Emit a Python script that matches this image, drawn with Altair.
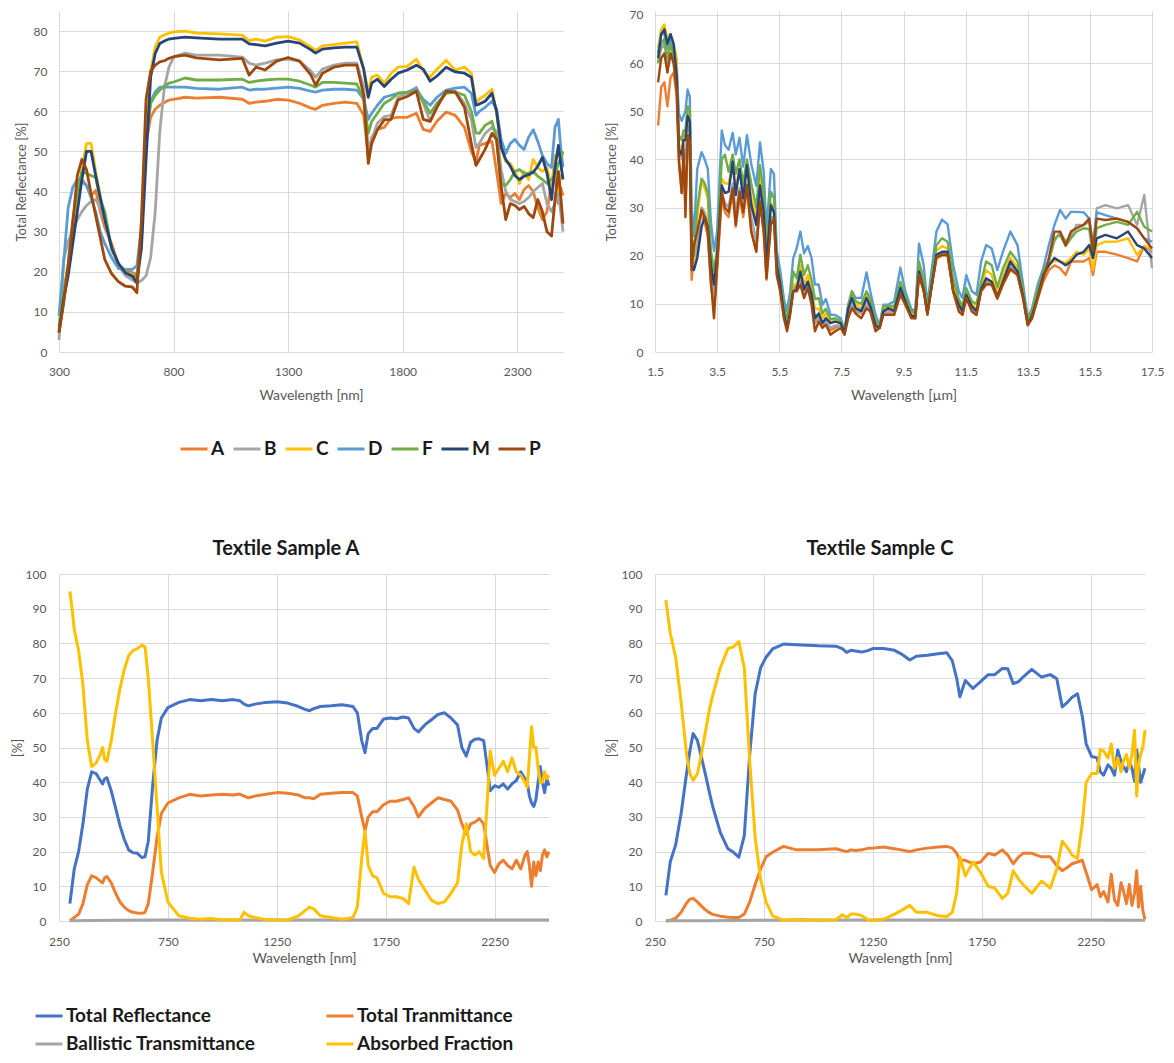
import altair as alt
import pandas as pd

FONT = "Lato"
GRID = "#d9d9d9"
LBL = "#595959"

# ---------------- Top-left: Total reflectance 300-2500 nm ----------------
SAMPLES = ["A", "B", "C", "D", "F", "M", "P"]
SAMPLE_COLORS = ["#ED7D31", "#A5A5A5", "#FFC000", "#5B9BD5", "#70AD47", "#264478", "#9E480E"]

TL_X = [300, 320, 340, 360, 380, 400, 420, 440, 460, 480,
        500, 530, 560, 590, 620, 640, 660, 680, 700, 720,
        740, 760, 780, 800, 850, 900, 1000, 1100, 1130, 1160,
        1200, 1250, 1300, 1350, 1400, 1420, 1450, 1500, 1550, 1600,
        1630, 1650, 1665, 1690, 1720, 1750, 1780, 1820, 1860, 1890,
        1920, 1950, 1990, 2030, 2070, 2100, 2120, 2135, 2160, 2190,
        2210, 2230, 2250, 2270, 2290, 2310, 2330, 2350, 2370, 2390,
        2410, 2430, 2450, 2465, 2480, 2490, 2500]

TL_A = [4.8, 13, 20, 31, 40, 43, 41.5, 39, 40.3, 35,
        31, 27, 21.5, 20.5, 19.8, 19.3, 29, 52, 58.5, 60.5,
        61.5, 62.2, 62.8, 63, 63.5, 63.3, 63.5, 63, 62, 62.3,
        62.5, 63, 62.8, 62, 60.8, 60.5, 61.5, 62, 62.3, 62,
        59, 49, 53.5, 55.5, 56, 58.3, 58.5, 58.5, 59.5, 55.5,
        55, 57.5, 59.8, 59, 56, 50, 47.5, 51.5, 52, 52.5,
        45, 37, 39.5, 38.5, 39.5, 38, 40.5, 41.5, 40, 36,
        33, 35, 42, 44, 37, 41, 39]
TL_B = [3, 23, 27.5, 30.5, 33, 35, 36.5, 37.5, 38, 36,
        32.5, 26, 21.5, 19, 18, 17.2, 17.8, 19, 23.5, 35,
        55, 66, 71, 73.5, 74.5, 74, 74, 73.5, 72, 71.5,
        72, 72.8, 73, 72.5, 70, 68.5, 70.5, 71.5, 72, 72,
        66, 50.5, 53, 57, 58.7, 59, 63.5, 64.5, 66, 62,
        57.5, 61.5, 64.5, 65, 62, 58, 51, 52, 54.5, 56,
        55, 45.5, 40, 38, 37.5, 37, 37.5, 38.5, 40, 41,
        42, 37, 35, 37, 39.6, 35, 30]
TL_C = [5, 13, 20, 29, 38, 45.5, 52, 52, 45, 39,
        33, 26, 22, 19.7, 19.3, 18.2, 28, 55, 70, 76,
        78.5, 79, 79.5, 79.8, 80, 79.5, 79.3, 79, 77.6, 78,
        77.5, 78.5, 78.6, 77.8, 76, 75.2, 76.3, 76.6, 77, 77.3,
        70.5, 64.8, 68.5, 69, 67, 69.5, 71, 71.2, 73, 70,
        68.5, 70.5, 72.7, 70.3, 71, 69.5, 62, 63, 64, 65.5,
        59.5, 51, 47.5, 47, 45, 42, 45, 43, 48, 46,
        45, 46, 41, 49, 40, 44, 44]
TL_D = [9, 22, 36, 41, 43, 42.5, 41.5, 38.5, 35, 30,
        27, 23.5, 20.8, 20.6, 20.6, 21.5, 31, 54, 62.5, 64.8,
        66, 66, 66, 66, 66, 65.7, 65.5, 66, 65.3, 65.5,
        65.5, 65.8, 66, 65.7, 65, 64.8, 65.3, 65.5, 65.5, 65.3,
        63, 58, 59.5, 61.5, 63.5, 64, 64.5, 64.8, 65.5, 63,
        61.5, 63.5, 65.3, 65.8, 66, 64.5, 59, 60, 61, 62.5,
        60.5, 53, 49.5, 52, 53, 51.5, 50.5, 53.5, 55.4, 52.5,
        49, 47, 46, 56, 58, 51, 46]
TL_F = [6.5, 15, 22, 33, 40, 45, 44.5, 44, 43.5, 38,
        35, 25.5, 22, 20, 19, 18.9, 29, 53, 62, 64,
        65.3, 66.3, 67, 67.3, 68.3, 67.8, 67.8, 68, 67.2, 67.5,
        67.8, 68, 68, 67.5, 66.5, 66, 67.2, 67.2, 67, 66.8,
        63, 54.5, 57.5, 59.5, 62, 63, 64.5, 64.7, 65, 62.5,
        59.5, 62, 64.5, 64.8, 64, 60, 54.6, 54.5, 56.5, 57.5,
        53, 42, 41.5, 43, 45, 45.5, 44.5, 44.6, 45, 43.8,
        43, 42, 43, 44, 47, 48, 50]
TL_M = [5, 13, 19, 27, 35, 43, 50, 50, 44, 38.5,
        33, 26, 22, 19.7, 18.9, 17.3, 26, 48, 68.5, 74.4,
        76.9, 77.5, 78, 78.2, 78.5, 78.3, 78, 78, 76.8, 76.6,
        76.3, 77, 77.5, 77, 75.3, 74.5, 75.5, 75.8, 76, 76,
        70.5, 63.5, 67, 68, 66.2, 68, 69.5, 70.3, 71.5, 70.5,
        67.5, 68.8, 71, 69.8, 69.5, 68.5, 61.5, 61.8, 62.5, 64.5,
        60, 51, 48, 46.3, 44, 43, 43.8, 44.2, 44.8, 46.3,
        48.5, 44.6, 38, 46, 51.5, 47, 43]
TL_P = [4.8, 12, 21.5, 32, 44, 48, 45.5, 39.5, 34, 28.5,
        23, 19.5, 17.5, 16.4, 16.2, 14.8, 33, 63, 70, 71.5,
        72.3, 72.6, 73.2, 73.6, 74, 73.3, 72.8, 73.2, 69, 71,
        70.3, 72.5, 73.4, 72.5, 69, 66.5, 69.5, 71, 71.5, 71.5,
        64, 47, 52, 55.4, 57.9, 58, 62.8, 63.7, 65, 58,
        57.5, 61, 65, 64.8, 61, 52, 46.5, 48, 50.5, 54.5,
        53, 41.3, 33, 37, 36.5, 35.5, 36.3, 34.5, 33.5, 38,
        35, 30, 28.9, 38, 45, 39, 32]

# ---------------- Top-right: Total reflectance 1.5-17.5 um ----------------
TR_X = [1.6, 1.7, 1.8, 1.9, 2.0, 2.1, 2.2, 2.27, 2.36, 2.42,
        2.48, 2.55, 2.62, 2.68, 2.75, 2.86, 3.0, 3.1, 3.2, 3.3,
        3.4, 3.5, 3.65, 3.75, 3.87, 4.0, 4.1, 4.22, 4.34, 4.46,
        4.6, 4.76, 4.88, 5.0, 5.09, 5.23, 5.33, 5.42, 5.53, 5.65,
        5.75, 5.85, 5.95, 6.06, 6.18, 6.3, 6.42, 6.54, 6.65, 6.77,
        6.89, 7.0, 7.15, 7.3, 7.48, 7.6, 7.72, 7.84, 7.96, 8.14,
        8.31, 8.43, 8.6, 8.73, 8.85, 9.0, 9.2, 9.4, 9.56, 9.75,
        9.88, 10.0, 10.15, 10.27, 10.4, 10.56, 10.74, 10.92, 11.1, 11.28,
        11.4, 11.52, 11.7, 11.85, 12.0, 12.16, 12.34, 12.52, 12.7, 12.94,
        13.17, 13.35, 13.5, 13.64, 13.82, 14.0, 14.18, 14.36, 14.54, 14.72,
        14.89, 15.07, 15.3, 15.48, 15.6, 15.72, 16.0, 16.37, 16.73, 17.02,
        17.25, 17.5]

TR_A = [47, 55, 56, 51, 57, 58, 53, 39, 33, 40,
        30, 43, 42, 15, 20, 24, 29, 27, 24, 14,
        9, 17, 32, 29, 28, 33, 26, 32, 28, 34,
        25, 21, 31, 25, 15, 27, 28, 16, 13, 7.5,
        5, 8.5, 13, 14, 15, 12, 14, 11, 6, 7,
        5.5, 6.5, 4.5, 5, 5.5, 3.8, 8, 10, 8.5, 8,
        10, 9, 5, 5, 8, 8, 8, 12.5, 10, 7.5,
        7, 16, 13, 8, 13.5, 19.5, 20, 20, 12.5, 9,
        8, 11.5, 9, 8, 13, 14.5, 14, 11, 14, 17,
        16, 11, 5.5, 7, 11, 14.6, 17, 18, 17.4, 16,
        18.8, 18.8, 18.8, 19.5, 16, 20.8, 20.8, 20.2, 19.5, 18.8,
        22, 20.8]
TR_B = [60, 63, 64, 60, 62, 60, 55, 43, 40, 43,
        40, 47, 46, 20, 18, 22, 30, 29, 27, 17,
        12, 19, 33, 31, 30, 35, 29, 34, 30, 35,
        28, 23, 32, 27, 17, 28, 28, 17, 13, 7.5,
        5, 8, 13, 13, 16, 12, 14, 11, 6, 7.5,
        5.5, 6.5, 5, 5.5, 5.5, 3.7, 8, 10, 9, 8,
        10, 9, 5, 5, 8, 8.5, 8, 12.5, 10, 7.5,
        7, 16.5, 13, 8, 13.5, 20, 20.5, 20.5, 13, 9.5,
        8, 11.5, 9, 8, 13, 15, 14.5, 11.5, 14.5, 18,
        16.5, 11.5, 5.7, 7.5, 11.5, 15.5, 19, 23, 25, 22.9,
        24, 26.4, 26.4, 27, 20, 29.8, 30.5, 29.8, 30.5, 26.4,
        32.6, 17.4]
TR_C = [63, 67, 68, 65, 66, 64, 61, 43, 42, 45,
        45, 50, 48, 22, 19, 28, 35.7, 34, 32, 20,
        16, 22, 36, 35, 35, 39, 34, 38, 33, 38,
        32, 28, 36, 30, 19, 31, 29, 18, 14, 8.5,
        6, 9, 14, 14, 18, 14, 16, 13, 9, 9,
        7, 8, 6.2, 6.5, 6, 4, 9, 11.5, 10, 9,
        12, 10, 6, 5, 9, 9.2, 9, 14, 11, 8,
        7.5, 17.5, 14, 8.5, 14, 21, 22, 21.5, 14, 10.5,
        9, 12.5, 10, 9, 14, 17, 16, 12.5, 16, 19.5,
        17.5, 12, 6, 8, 12, 16, 18, 19, 18.8, 18.5,
        19.5, 20.8, 20.2, 21.5, 17, 22.2, 22.9, 22.9, 23.6, 20.2,
        22, 21.5]
TR_D = [62, 66, 66, 63, 65, 63, 58, 49.5, 48, 49,
        50, 54.5, 53, 30, 24, 38, 41.5, 40, 38, 27,
        21, 25, 46, 43, 42, 45.5, 41, 44.5, 38.5, 45,
        39, 34.5, 43.5, 37.5, 25, 38, 37, 21, 17, 11,
        8.5, 12.5, 19.5, 21.5, 25, 20.5, 22, 19.5, 14, 14,
        9.8, 11, 7.7, 7.7, 7, 4.5, 9.8, 12.6, 11.2, 11.2,
        16.5, 12.6, 7.7, 5.5, 9.8, 9.8, 10.5, 17.5, 12.6, 9,
        8.4, 22.5, 18, 9.8, 16.7, 25, 27.5, 26.5, 18, 12.6,
        11.2, 16, 12.6, 11.9, 18.8, 22.2, 21.5, 17, 20.8, 25,
        22.2, 14, 7, 9.1, 14, 17.4, 22.2, 26.4, 29.5, 27.7,
        29.1, 29.1, 29, 27.7, 22.2, 29, 28.4, 27.7, 27, 25.7,
        23.6, 22.9]
TR_F = [60, 64, 65, 61, 64, 61, 56, 45, 44, 46,
        46, 51, 50, 24, 20, 30, 36, 35, 33, 21,
        17, 21, 40, 41, 37.4, 41, 37, 40, 35, 40,
        35, 30, 38.8, 33, 21, 33.3, 32, 19, 15, 9.5,
        7, 10, 16.7, 15.3, 20.2, 16, 18, 15, 11, 11.2,
        8, 9, 6.8, 7, 6.5, 4.2, 9.5, 12.6, 10.5, 10,
        12.6, 11, 6.5, 5.2, 9.5, 9.5, 9.5, 14.6, 11.5, 8.5,
        8, 18.8, 15, 9, 14.6, 22.2, 23.6, 22.9, 15.3, 11,
        9.5, 13.3, 10.5, 10, 14.6, 18.8, 18, 13.5, 17.3, 20.8,
        18.8, 12.5, 6.5, 8.5, 13, 16.7, 18.8, 23.6, 24.3, 22,
        23.6, 25, 25.7, 25.5, 20, 25.7, 26.4, 27, 26.4, 29.1,
        26, 25]
TR_M = [61, 66, 67, 64, 66, 64, 57, 42, 41, 44,
        44, 49, 47.8, 18, 17, 19.5, 26, 28, 26, 18,
        14, 20, 34.6, 33, 33.3, 39.5, 32.6, 38, 31.9, 38.8,
        30.5, 26.4, 34.6, 29, 18, 30.5, 29, 18, 14, 8,
        5, 8.4, 12.6, 13, 16.7, 13, 14.6, 12, 7, 8,
        6, 7, 6, 6.3, 6, 3.8, 9, 11.2, 9.1, 8.5,
        11.2, 9.5, 5.5, 5, 8.4, 9.1, 8.5, 13.3, 10.5, 7.5,
        7.5, 16.7, 13, 8, 13.5, 20.2, 20.8, 20.8, 12.6, 9.8,
        8.5, 11.9, 9.5, 8.5, 13, 15.3, 14.6, 11.5, 14.6, 18.8,
        16.7, 11.5, 5.7, 7.5, 11.5, 16, 18, 19.5, 18.8, 18,
        18.8, 20.2, 20.8, 22.2, 19.5, 23.6, 24.3, 23.6, 25, 22.2,
        21.5, 19.5]
TR_P = [56, 61, 62, 58, 62, 60, 54, 40, 33, 42,
        28, 45, 44, 17, 22, 25, 29.5, 28, 25, 14.6,
        7, 18, 33.3, 30, 29, 34, 26.4, 33.3, 29, 34.6,
        25, 20.8, 31.2, 25, 15.3, 26.4, 27.7, 16, 12.6, 7,
        4.3, 7.7, 12.6, 12.6, 14, 11.2, 13.3, 9.8, 4.3, 6.3,
        5, 5.7, 3.6, 4.3, 5, 3.6, 7, 9.1, 8, 7,
        9.1, 8.4, 4.3, 5, 7.7, 7.7, 7.7, 11.9, 9.8, 7,
        7, 16, 12.6, 7.7, 13.3, 19.5, 20.2, 20.2, 12.6, 8.4,
        7.7, 11.2, 8.4, 7.7, 12.6, 14, 14, 11.2, 14, 17.3,
        16, 11.2, 5.7, 7, 11.2, 15.3, 19.5, 25, 25, 22.2,
        25, 25.7, 26.4, 27.7, 21, 27.7, 27.4, 27.7, 27, 25.7,
        23.6, 21.5]

# ---------------- Bottom: Textile sample A / C ----------------
PARTS = ["Total Reflectance", "Total Tranmittance", "Ballistic Transmittance", "Absorbed Fraction"]
PART_COLORS = ["#4472C4", "#ED7D31", "#A5A5A5", "#FFC000"]

BL_X = [300, 310, 320, 340, 360, 380, 400, 420, 440, 450,
        460, 470, 490, 510, 530, 550, 570, 590, 610, 630,
        645, 660, 680, 700, 720, 750, 800, 850, 900, 950,
        1000, 1050, 1080, 1100, 1120, 1150, 1200, 1250, 1300, 1350,
        1380, 1400, 1420, 1450, 1500, 1550, 1600, 1620, 1640, 1655,
        1670, 1690, 1710, 1740, 1770, 1800, 1830, 1855, 1880, 1900,
        1930, 1960, 1990, 2020, 2050, 2080, 2100, 2120, 2140, 2160,
        2180, 2200, 2215, 2230, 2250, 2270, 2290, 2310, 2330, 2350,
        2370, 2390, 2400, 2410, 2420, 2430, 2440, 2450, 2460, 2470,
        2480, 2490, 2500]
BL_R = [5, 10, 15, 20, 28, 38, 43, 42.5, 40.5, 39.5,
        41, 41.3, 37.5, 32.5, 27.5, 23.5, 20.5, 19.7, 19.5, 18.3,
        18.5, 23, 39, 52, 58.5, 61.5, 63, 63.8, 63.5, 63.8,
        63.5, 63.8, 63.5, 62.5, 62, 62.5, 63, 63.2, 62.8, 61.8,
        61, 60.6, 61.2, 61.8, 62, 62.3, 61.8, 60, 52, 48.5,
        54, 55.5, 55.5, 58.2, 58.5, 58.3, 58.8, 58.5, 55.5, 54.5,
        56.5, 58, 59.5, 60, 58.5, 56.5, 50, 47.5, 51.5, 52.4,
        52.5, 52, 45, 37.5, 39, 38.5, 39.5, 38, 39.5, 40.5,
        43, 41, 40, 36, 34, 33, 35, 40, 44.5, 40,
        37, 41, 39]
BL_T = [0, 0.5, 1, 2, 5, 10.5, 13, 12.5, 11.5, 11,
        12.5, 12.8, 11, 8, 5.5, 4, 3, 2.5, 2.3, 2.2,
        2.5, 5, 14, 24, 31, 34, 35.5, 36.5, 36, 36.3,
        36.5, 36.3, 36.6, 36, 35.5, 36, 36.5, 37, 36.8, 36.3,
        35.5, 35.5, 35.2, 36.5, 36.8, 37, 37, 36, 30, 26,
        30, 31.5, 31.5, 33.5, 34.5, 34.5, 35, 35.5, 33, 30,
        32.5, 34, 35.5, 35, 34.5, 32, 28, 25, 28, 28.5,
        29.5, 28, 22, 16, 14, 16.5, 17.5, 16, 15, 17.5,
        15, 19, 20, 16, 10, 17, 13, 17, 14.5, 19,
        20.5, 18.5, 20]
BL_AB = [95, 90, 84, 78, 68, 52, 44.5, 45.5, 48, 50,
         46.5, 46, 52, 60, 67, 72.5, 76.5, 78, 78.5, 79.5,
         79, 70, 52, 33, 14, 5.5, 1.5, 0.8, 0.5, 0.7,
         0.3, 0.4, 0.3, 2.5, 1.5, 1, 0.4, 0.3, 0.3, 1.5,
         3, 4, 3.5, 1.5, 1, 0.5, 1, 4, 18, 26,
         16, 13, 12.5, 8, 7, 7, 6.5, 5, 15.5, 12,
         9, 6, 5, 5.5, 8, 11, 22, 28, 20, 19,
         20, 18, 33, 49, 42, 44, 46, 43, 47, 43,
         42, 40, 38.5, 47, 56, 50, 50, 44, 40, 40,
         43, 41, 42]

BR_X = [300, 320, 345, 370, 395, 410, 425, 445, 460, 480,
        500, 515, 550, 585, 610, 635, 660, 685, 710, 735,
        760, 790, 840, 900, 1000, 1080, 1110, 1130, 1150, 1170,
        1200, 1230, 1250, 1300, 1350, 1380, 1420, 1450, 1500, 1550,
        1590, 1615, 1635, 1650, 1675, 1710, 1745, 1780, 1810, 1845,
        1870, 1895, 1920, 1940, 1980, 2025, 2065, 2095, 2120, 2145,
        2165, 2190, 2212, 2230, 2255, 2280, 2295, 2310, 2330, 2345,
        2360, 2375, 2390, 2400, 2415, 2428, 2440, 2452, 2462, 2470,
        2480, 2490, 2500]
BR_R = [7.4, 17, 22, 31, 42.6, 49, 54, 52, 48, 42.7,
        37, 33, 25.5, 20.8, 19.8, 18.4, 24.6, 48, 65.5, 73,
        76, 78.4, 79.8, 79.6, 79.3, 79.2, 78.5, 77.4, 78, 77.8,
        77.5, 78, 78.5, 78.5, 78, 77, 75.2, 76.3, 76.6, 77,
        77.3, 75, 70, 64.6, 69.3, 67, 69, 71, 71, 72.8,
        72.7, 68.4, 69, 70.3, 72.5, 70.3, 71, 69.8, 61.7, 63.1,
        64.5, 65.5, 59, 51, 47.4, 47, 43, 42, 45, 44,
        42, 49.3, 46, 44.6, 43, 46, 44, 40.3, 49.3, 45,
        40, 42, 44]
BR_T = [0, 0.2, 0.8, 2.5, 5.2, 6.3, 6.5, 5.5, 4.5, 3.3,
        2.4, 1.9, 1.4, 1.1, 1, 1, 2, 5.5, 10.5, 15,
        18.5, 19.8, 21.5, 20.5, 20.5, 20.8, 20.3, 20, 20.5, 20.3,
        20.5, 21, 21, 21.3, 20.8, 20.5, 20, 20.5, 21, 21.3,
        21.5, 21, 19.5, 17.5, 17.5, 16.5, 17, 19.5, 19, 20.5,
        19, 16.5, 18.5, 19.5, 19.5, 18.5, 18.5, 16, 14.5, 15.5,
        16.5, 17, 17.5, 14, 9, 10.5, 7, 8.5, 5.5, 13.5,
        6, 4.5, 11, 9, 5, 10.5, 4.5, 8, 14.5, 4,
        10, 3, 0.5]
BR_AB = [92.5, 83, 76, 63, 48, 42.5, 40.5, 42.5, 47, 54,
         61, 65, 73, 78.5, 79, 80.5, 73, 46, 24, 12,
         5.5, 1.5, 0.2, 0.5, 0.2, 0.3, 1.8, 1, 2, 2,
         1.5, 0.3, 0.2, 0.5, 2, 3, 4.5, 2.5, 2.5, 1.5,
         1.3, 2.5, 8, 18.5, 13, 17, 14, 10, 9.5, 6.5,
         8, 14.5, 12, 10.5, 8, 11.5, 9.5, 15, 23, 21,
         19, 18, 28, 40, 42.5, 42.5, 49.5, 49, 47, 51,
         44, 47, 43, 46, 48, 44, 48, 55, 36, 45,
         48, 50, 55]

BAL_X = [300, 500, 700, 900, 1100, 1300, 1500, 1700, 1900, 2100, 2300, 2500]
BAL_A = [0.1, 0.2, 0.3, 0.3, 0.3, 0.3, 0.3, 0.3, 0.3, 0.3, 0.3, 0.3]
BAL_C = [0.1, 0.1, 0.2, 0.3, 0.3, 0.3, 0.3, 0.3, 0.3, 0.3, 0.3, 0.2]


def long(field, groups):
    rows = []
    for name, xs, ys in groups:
        assert len(xs) == len(ys), (name, len(xs), len(ys))
        for x, y in zip(xs, ys):
            rows.append({"x": x, "y": y, field: name})
    return pd.DataFrame(rows)


df_tl = long("sample", [("A", TL_X, TL_A), ("B", TL_X, TL_B), ("C", TL_X, TL_C),
                        ("D", TL_X, TL_D), ("F", TL_X, TL_F), ("M", TL_X, TL_M),
                        ("P", TL_X, TL_P)])
df_tr = long("sample", [("A", TR_X, TR_A), ("B", TR_X, TR_B), ("C", TR_X, TR_C),
                        ("D", TR_X, TR_D), ("F", TR_X, TR_F), ("M", TR_X, TR_M),
                        ("P", TR_X, TR_P)])
df_bl = long("part", [(PARTS[0], BL_X, BL_R), (PARTS[1], BL_X, BL_T),
                      (PARTS[2], BAL_X, BAL_A), (PARTS[3], BL_X, BL_AB)])
df_br = long("part", [(PARTS[0], BR_X, BR_R), (PARTS[1], BR_X, BR_T),
                      (PARTS[2], BAL_X, BAL_C), (PARTS[3], BR_X, BR_AB)])

AX = dict(grid=True, gridColor=GRID, gridWidth=1, domain=False, ticks=False,
          labelFont=FONT, labelFontSize=12, labelColor=LBL,
          titleFont=FONT, titleFontWeight="normal", titleColor=LBL,
          labelOverlap=False)


def panel(df, field, names, colors, xdom, xvals, xfmt, ydom, yvals, xtitle, ytitle,
          w, h, sw, legend, xlp, xtp, ylp, ytp, title=None):
    xa = dict(AX, values=xvals, title=xtitle, format=xfmt, labelFlush=False,
              labelPadding=xlp, titlePadding=xtp, titleFontSize=14)
    ya = dict(AX, values=yvals, title=ytitle, labelPadding=ylp, titlePadding=ytp,
              titleFontSize=13)
    ch = alt.Chart(df).mark_line(strokeWidth=sw, strokeJoin="round").encode(
        x=alt.X("x:Q", scale=alt.Scale(domain=xdom, nice=False, zero=False), axis=alt.Axis(**xa)),
        y=alt.Y("y:Q", scale=alt.Scale(domain=ydom, nice=False, zero=False), axis=alt.Axis(**ya)),
        color=alt.Color(f"{field}:N", scale=alt.Scale(domain=names, range=colors),
                        sort=names, legend=legend),
    )
    props = dict(width=w, height=h)
    if title is not None:
        props["title"] = title
    return ch.properties(**props)


top_legend = alt.Legend(orient="none", legendX=120, legendY=423, direction="horizontal",
                        columns=7, title=None, padding=0,
                        symbolType="stroke", symbolSize=729, symbolStrokeWidth=3,
                        labelFont=FONT, labelFontSize=19, labelFontWeight="bold",
                        labelColor="#1a1a1a", labelOffset=2, columnPadding=2)
bot_legend = alt.Legend(orient="none", legendX=-25, legendY=427, direction="horizontal",
                        columns=2, title=None, padding=0,
                        symbolType="stroke", symbolSize=729, symbolStrokeWidth=3,
                        labelFont=FONT, labelFontSize=19, labelFontWeight="bold",
                        labelColor="#1a1a1a", labelOffset=2, columnPadding=64,
                        rowPadding=3, labelLimit=400)

tl = panel(df_tl, "sample", SAMPLES, SAMPLE_COLORS, [300, 2500], [300, 800, 1300, 1800, 2300], "d",
           [0, 85], list(range(0, 81, 10)), "Wavelength [nm]", "Total Reflectance [%]",
           504, 341, 2.8, top_legend, xlp=14, xtp=11, ylp=12, ytp=5)
tr = panel(df_tr, "sample", SAMPLES, SAMPLE_COLORS, [1.5, 17.5],
           [1.5, 3.5, 5.5, 7.5, 9.5, 11.5, 13.5, 15.5, 17.5], ".1f",
           [0, 70.8], list(range(0, 71, 10)), "Wavelength [µm]", "Total Reflectance [%]",
           497, 341, 2.4, None, xlp=14, xtp=11, ylp=12, ytp=11)

TITLE_KW = dict(font=FONT, fontSize=20, fontWeight="bold", color="#1a1a1a", offset=9)
bl = panel(df_bl, "part", PARTS, PART_COLORS, [250, 2500], [250, 750, 1250, 1750, 2250], "d",
           [0, 100], list(range(0, 101, 10)), "Wavelength [nm]", "[%]",
           490, 347, 3, bot_legend, xlp=15, xtp=4, ylp=13, ytp=1,
           title=alt.TitleParams("Textile Sample A", dx=-18, **TITLE_KW))
br = panel(df_br, "part", PARTS, PART_COLORS, [250, 2500], [250, 750, 1250, 1750, 2250], "d",
           [0, 100], list(range(0, 101, 10)), "Wavelength [nm]", "[%]",
           490, 347, 3, None, xlp=15, xtp=4, ylp=13, ytp=3,
           title=alt.TitleParams("Textile Sample C", dx=-20, **TITLE_KW))

chart = alt.concat(tl, tr, bl, br, columns=2, bounds="flush",
                   spacing={"row": 222, "column": 92}).resolve_scale(
    color="independent").resolve_legend(color="independent").properties(
    padding={"left": 3, "top": 0, "right": 0, "bottom": 0}
).configure_view(stroke=None)

chart.save("out.html", embed_options={"renderer": "svg", "actions": False})
